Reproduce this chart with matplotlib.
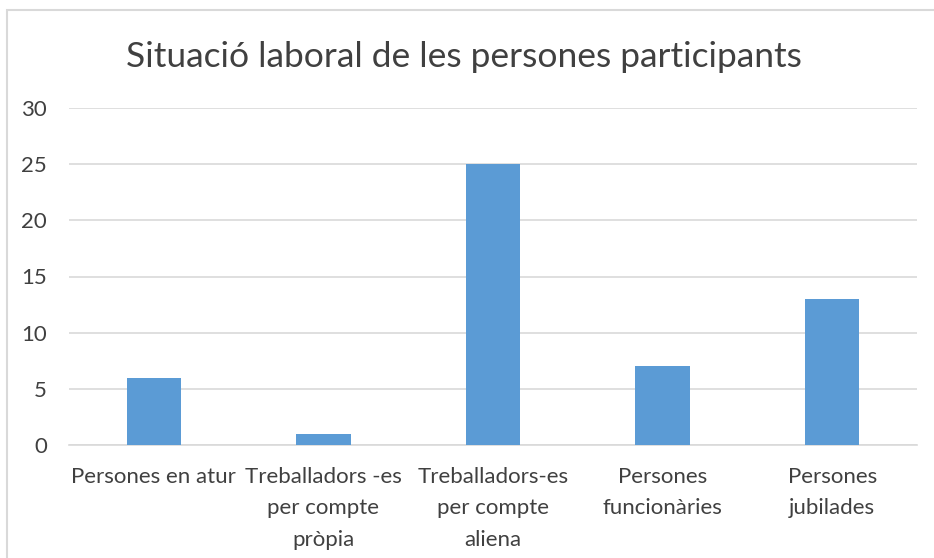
import matplotlib.pyplot as plt
from matplotlib.patches import Rectangle

# dades del gràfic
categories = ['Persones en atur', 'Treballadors -es\nper compte\npròpia',
              'Treballadors-es\nper compte\naliena', 'Persones\nfuncionàries',
              'Persones\njubilades']
values = [6, 1, 25, 7, 13]
yticks = [0, 5, 10, 15, 20, 25, 30]

plt.rcParams['font.family'] = ['Lato', 'DejaVu Sans']

fig = plt.figure(figsize=(9.34, 5.58), dpi=100)
ax = fig.add_axes([69 / 934, 1 - 445 / 558, 848 / 934, 337 / 558])

x = range(len(categories))
ax.bar(x, values, width=0.32, color='#5B9BD5', zorder=3)

ax.set_xlim(-0.5, len(categories) - 0.5)
ax.set_ylim(0, 30)
ax.set_yticks(yticks)
ax.set_xticks(list(x))
ax.set_xticklabels(categories, fontsize=16, color='#404040', linespacing=1.7)
ax.tick_params(axis='y', labelsize=16, labelcolor='#404040', length=0, pad=16)
ax.tick_params(axis='x', length=0, pad=16)

ax.grid(axis='y', color='#D9D9D9', linewidth=1.2, zorder=0)
for s in ['top', 'right', 'left']:
    ax.spines[s].set_visible(False)
ax.spines['bottom'].set_color('#D9D9D9')
ax.spines['bottom'].set_linewidth(1.2)

fig.text(0.5 - 3 / 934, 1 - 57 / 558, 'Situació laboral de les persones participants',
         ha='center', va='center', fontsize=25.5, color='#404040')

# marc del gràfic
fig.patches.append(Rectangle((7 / 934, -0.1), 1.1, 1 - 10 / 558 + 0.1,
                             transform=fig.transFigure, fill=False,
                             edgecolor='#D9D9D9', linewidth=1.5))

fig.savefig('out.png', dpi=100)
